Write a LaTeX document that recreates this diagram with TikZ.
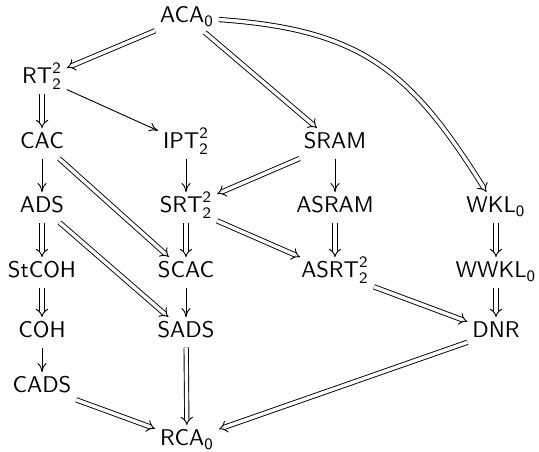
\documentclass[tikz,border=0pt]{standalone}
\usepackage{amsmath}
\usetikzlibrary{arrows.meta}
\renewcommand{\familydefault}{\sfdefault}
\newcommand{\Sf}[1]{\mathsf{#1}}
\begin{document}
\begin{tikzpicture}[x=0.4405pt,y=-0.4405pt,
  thm/.style={anchor=base, inner sep=2pt, text height=7pt, text depth=2pt,
    font=\fontsize{10}{12}\selectfont},
  dbl/.style={double, double distance=1.5pt, line width=0.4pt, -{Implies[scale=1.25]}},
  sgl/.style={line width=0.4pt, -{To[length=4pt,width=4pt]}}]
\useasboundingbox (0,0) rectangle (539,452);
\node[thm] (ACA)   at (187,23)  {ACA$_{\Sf0}$};
\node[thm] (RT)    at (42,84)   {$\Sf{RT}^{\Sf2}_{\Sf2}$};
\node[thm] (CAC)   at (42,149)  {CAC};
\node[thm] (IPT)   at (186,149) {$\Sf{IPT}^{\Sf2}_{\Sf2}$};
\node[thm] (SRAM)  at (335,149) {SRAM};
\node[thm] (ADS)   at (42,213)  {ADS};
\node[thm] (SRT)   at (186,213) {$\Sf{SRT}^{\Sf2}_{\Sf2}$};
\node[thm] (ASRAM) at (335,213) {ASRAM};
\node[thm] (WKL)   at (496,213) {WKL$_{\Sf0}$};
\node[thm] (StCOH) at (42,278)  {StCOH};
\node[thm] (SCAC)  at (186,278) {SCAC};
\node[thm] (ASRT)  at (335,278) {$\Sf{ASRT}^{\Sf2}_{\Sf2}$};
\node[thm] (WWKL)  at (496,278) {WWKL$_{\Sf0}$};
\node[thm] (COH)   at (42,338)  {COH};
\node[thm] (SADS)  at (186,338) {SADS};
\node[thm] (DNR)   at (496,338) {DNR};
\node[thm] (CADS)  at (42,393)  {CADS};
\node[thm] (RCA)   at (187,446) {RCA$_{\Sf0}$};
% double arrows
\draw[dbl] (ACA) -- (RT);
\draw[dbl] (ACA) -- (SRAM);
\draw[dbl] (ACA) to[out=-4, in=122, looseness=1.15] (WKL);
\draw[dbl] (RT) -- (CAC);
\draw[dbl] (CAC) -- (SCAC);
\draw[dbl] (ADS) -- (StCOH);
\draw[dbl] (ADS) -- (SADS);
\draw[dbl] (SRAM) -- (SRT);
\draw[dbl] (SRT) -- (SCAC);
\draw[dbl] (SRT) -- (ASRT);
\draw[dbl] (ASRAM) -- (ASRT);
\draw[dbl] (WKL) -- (WWKL);
\draw[dbl] (WWKL) -- (DNR);
\draw[dbl] (ASRT) -- (DNR);
\draw[dbl] (StCOH) -- (COH);
\draw[dbl] (SADS) -- (RCA);
\draw[dbl] (CADS) -- (RCA);
\draw[dbl] (DNR) -- (RCA);
% single arrows
\draw[sgl] (RT) -- (IPT);
\draw[sgl] (CAC) -- (ADS);
\draw[sgl] (IPT) -- (SRT);
\draw[sgl] (SRAM) -- (ASRAM);
\draw[sgl] (SCAC) -- (SADS);
\draw[sgl] (COH) -- (CADS);
\end{tikzpicture}
\end{document}
